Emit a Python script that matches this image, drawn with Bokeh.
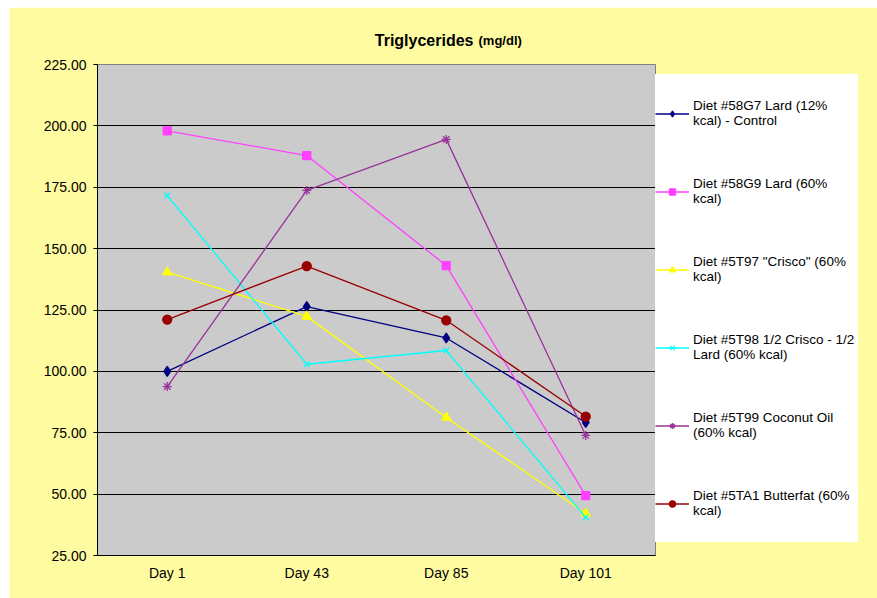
from bokeh.plotting import figure
from bokeh.models import (FactorRange, Range1d, FixedTicker, NumeralTickFormatter,
                          Legend, LegendItem, Label, Spacer)
from bokeh.layouts import column, row
from bokeh.embed import file_html
from bokeh.resources import INLINE

days = ["Day 1", "Day 43", "Day 85", "Day 101"]
diet_58g7 = [100.0, 126.4, 113.6, 79.2]
diet_58g9 = [198.0, 187.9, 143.1, 49.4]
diet_5t97 = [140.4, 122.4, 81.2, 42.1]
diet_5t98 = [171.6, 102.9, 108.5, 40.5]
diet_5t99 = [93.8, 173.7, 194.5, 73.9]
diet_5ta1 = [121.1, 142.9, 120.8, 81.6]
series_labels = [
    "Diet #58G7 Lard (12%\nkcal) - Control",
    "Diet #58G9 Lard (60%\nkcal)",
    'Diet #5T97 "Crisco" (60%\nkcal)',
    "Diet #5T98 1/2 Crisco - 1/2\nLard (60% kcal)",
    "Diet #5T99 Coconut Oil\n(60% kcal)",
    "Diet #5TA1 Butterfat (60%\nkcal)",
]
y_ticks = [25, 50, 75, 100, 125, 150, 175, 200, 225]

YELLOW = "#FFFBA1"
GRAY = "#CBCBCB"
FONT = "Liberation Sans"

p = figure(x_range=FactorRange(*days, range_padding=0), y_range=Range1d(25, 225),
           frame_width=558, frame_height=491,
           min_border_left=88, min_border_top=57, min_border_right=222, min_border_bottom=43,
           output_backend="svg", toolbar_location=None, title=None,
           background_fill_color=GRAY, border_fill_color=YELLOW,
           outline_line_color="#808080")

series = [
    (diet_58g7, "#000080", "diamond", 10),
    (diet_58g9, "#FF40FF", "square", 8),
    (diet_5t97, "#FFFF00", "triangle", 9),
    (diet_5t98, "#00FFFF", "x", 8),
    (diet_5t99, "#993399", "asterisk", 9),
    (diet_5ta1, "#990000", "circle", 9),
]
items = []
for (vals, color, marker, size), lab in zip(series, series_labels):
    ln = p.line(days, vals, line_color=color, line_width=1.3)
    sc = p.scatter(days, vals, marker=marker, size=size, fill_color=color,
                   line_color=color, line_width=1.3)
    items.append(LegendItem(label=lab, renderers=[ln, sc]))

legend = Legend(items=items, location=(0, 13), margin=0, padding=2, spacing=0,
                glyph_width=34, glyph_height=15, label_standoff=4,
                label_width=165, label_height=78,
                label_text_font=FONT, label_text_font_size="13.5px", label_text_color="#000000",
                background_fill_color="#FFFFFF", background_fill_alpha=1.0,
                border_line_color=None)
p.add_layout(legend, "right")

p.xgrid.grid_line_color = None
p.ygrid.ticker = FixedTicker(ticks=y_ticks)
p.ygrid.grid_line_color = "#000000"
p.ygrid.grid_line_width = 1

p.yaxis.ticker = FixedTicker(ticks=y_ticks)
p.yaxis.formatter = NumeralTickFormatter(format="0.00")
p.yaxis.minor_tick_line_color = None
p.yaxis.major_tick_in = 0
p.yaxis.major_tick_out = 4
p.yaxis.major_label_standoff = 7
p.yaxis.axis_line_color = "#000000"
p.yaxis.major_tick_line_color = "#000000"

p.xaxis.major_tick_line_color = None
p.xaxis.major_tick_in = 0
p.xaxis.major_tick_out = 0
p.xaxis.major_label_standoff = 9
p.xaxis.axis_line_color = "#000000"

for ax in (p.xaxis, p.yaxis):
    ax.major_label_text_font = FONT
    ax.major_label_text_font_size = "14px"
    ax.major_label_text_color = "#000000"

# title (two font sizes); placed in the side panel above so it is not clipped to the frame
p.add_layout(Label(x=0, y=225, x_offset=376, y_offset=24, text="Triglycerides",
                   text_font=FONT, text_font_size="16px", text_font_style="bold",
                   text_align="right", text_baseline="alphabetic", text_color="#000000"),
             "above")
p.add_layout(Label(x=0, y=225, x_offset=381, y_offset=24, text="(mg/dl)",
                   text_font=FONT, text_font_size="13px", text_font_style="bold",
                   text_align="left", text_baseline="alphabetic", text_color="#000000"),
             "above")

layout = row(Spacer(width=9), column(Spacer(height=7), p))
open("out.html", "w").write(file_html(layout, INLINE))
